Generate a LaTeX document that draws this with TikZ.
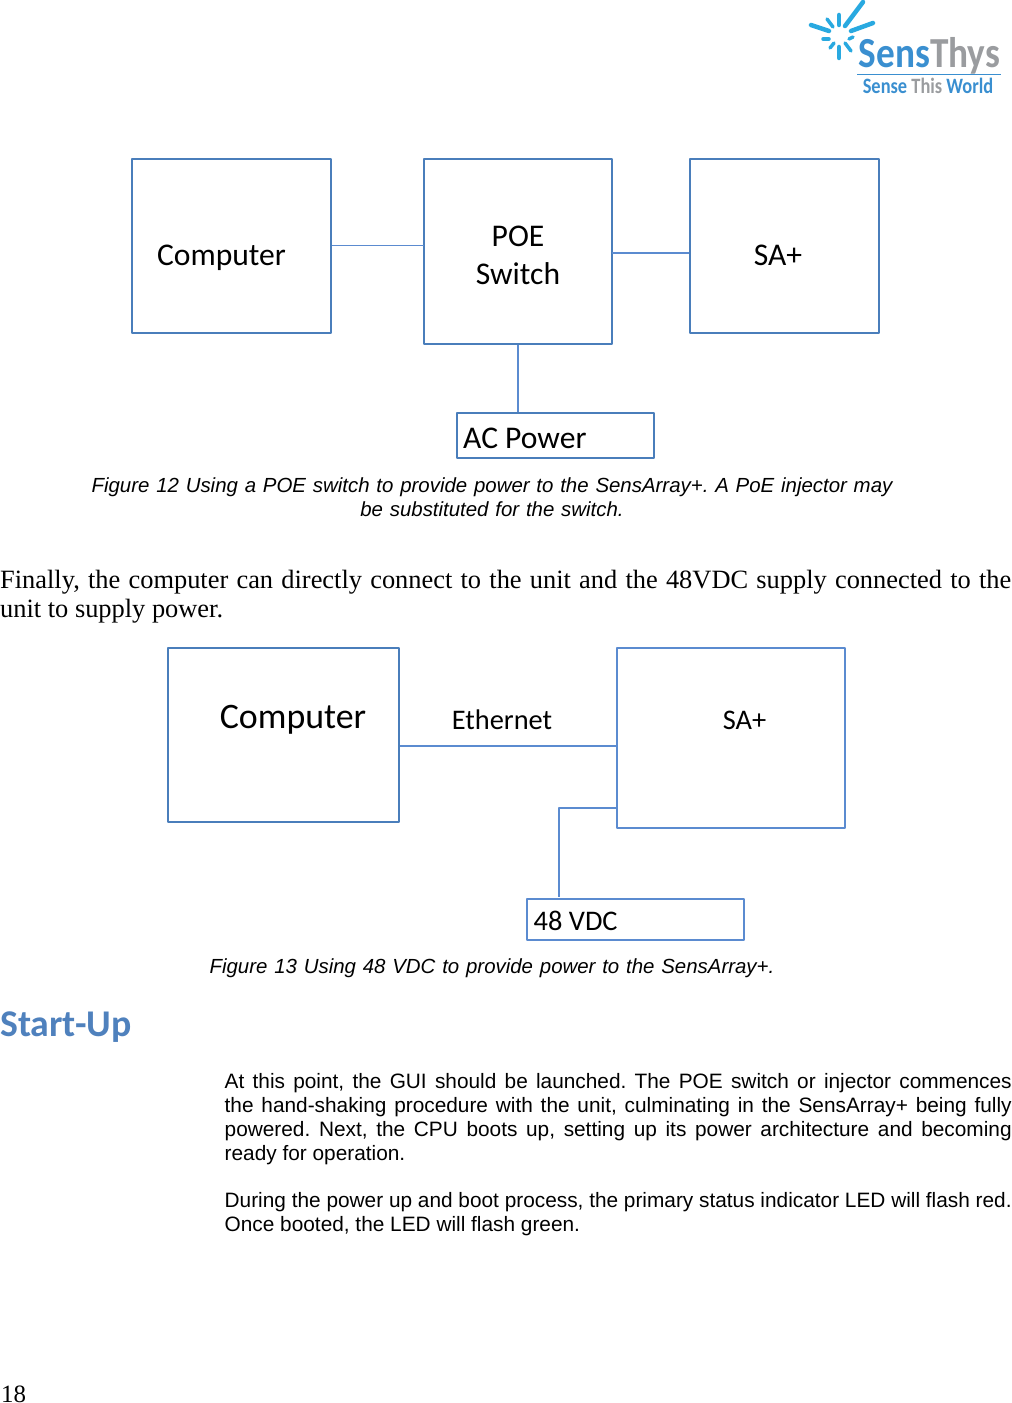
\documentclass[tikz,border=0pt]{standalone}
\usepackage{fontspec}
\setmainfont{Liberation Serif}
\newfontfamily\calfont{Carlito}
\newfontfamily\arialfont{Liberation Sans}
\usetikzlibrary{positioning}
\definecolor{boxblue}{HTML}{4A7EBB}
\definecolor{linkblue}{HTML}{5B8BD0}
\definecolor{headblue}{HTML}{4F81BD}
\definecolor{logoblue}{HTML}{3A8FD0}
\definecolor{raycyan}{HTML}{29A9E0}
\definecolor{logogray}{HTML}{9A9C9F}
\frenchspacing
\tikzset{
  blockbox/.style={draw=boxblue,line width=1.5bp,inner sep=0pt},
  blocktwo/.style={draw=linkblue,line width=1.5bp,inner sep=0pt},
  blocktext/.style={inner sep=0pt,font=\calfont\fontsize{31.7}{38}\selectfont,align=center},
  smalltext/.style={blocktext,font=\calfont\fontsize{28.5}{34}\selectfont},
  captiontext/.style={inner sep=0pt,text width=900bp,align=center,font=\arialfont\itshape\fontsize{20.5}{24}\selectfont},
  bodytext/.style={inner sep=0pt,anchor=north west,align=justify,font=\arialfont\fontsize{20.9}{24}\selectfont},
  ray/.style={raycyan,line cap=round,line width=4.5bp},
  rayshort/.style={raycyan,line cap=round,line width=3.5bp},
}
\begin{document}
\begin{tikzpicture}[x=1bp,y=1bp,line join=bevel]
\useasboundingbox (0,0) rectangle (1011,-1403);
%%
\node (comp_a) at (231.5,-246) [blockbox,minimum width=199bp,minimum height=174bp] {};
\node (poe) at (518,-251.5) [blockbox,minimum width=188bp,minimum height=185bp] {};
\node (sa_a) at (784.5,-246) [blockbox,minimum width=189bp,minimum height=174bp] {};
\node (ac) at (555.5,-435.5) [blockbox,minimum width=197bp,minimum height=45bp] {};
\node (comp_a_text) at (221.5,-258) [blocktext] {Computer};
\node (poe_text) at (518,-255) [blocktext] {POE\\Switch};
\node (sa_a_text) at (778,-255) [blocktext] {SA+};
\node (ac_text) [blocktext,anchor=west] at (463,-438) {AC Power};
\coordinate (poe_left) at (424,-245.5);
\coordinate (poe_right) at (612,-253);
\draw [linkblue,line width=1.3bp] (comp_a.east |- poe_left) -- (poe_left);
\draw [linkblue,line width=1.5bp] (poe_right) -- (sa_a.west |- poe_right);
\draw [linkblue,line width=1.5bp] (poe.south) -- (poe.south |- ac.north);
%
\node (cap_a) at (492,-497) [captiontext] {Figure 12 Using a POE switch to provide power to the SensArray+. A PoE injector may\\be substituted for the switch.};
\node (para_a) at (0,-570) [bodytext,text width=1011bp,font=\fontsize{26.5}{29}\selectfont] {Finally, the computer can directly connect to the unit and the 48VDC supply connected to the\linebreak unit to supply power.};
%
\node (comp_b) at (283.5,-735) [blockbox,minimum width=231bp,minimum height=174bp] {};
\node (sa_b) at (731,-738) [blocktwo,minimum width=228bp,minimum height=180bp] {};
\node (vdc) at (635.5,-919.5) [blocktwo,minimum width=217bp,minimum height=41bp] {};
\node (comp_b_text) at (293,-720) [blocktext,font=\calfont\fontsize{36}{40}\selectfont] {Computer};
\node (eth_text) at (502,-720) [smalltext] {Ethernet};
\node (sa_b_text) at (744.5,-720) [smalltext] {SA+};
\node (vdc_text) [smalltext,anchor=west] at (533.5,-921) {48 VDC};
\coordinate (sa_b_eth) at (617,-746);
\coordinate (sa_b_pow) at (617,-808);
\coordinate (vdc_top) at (559,-897);
\draw [linkblue,line width=1.5bp] (comp_b.east |- sa_b_eth) -- (sa_b_eth);
\draw [linkblue,line width=1.5bp] (sa_b_pow) -- (vdc_top |- sa_b_pow) -- (vdc_top);
%
\node (cap_b) at (492,-968) [captiontext] {Figure 13 Using 48 VDC to provide power to the SensArray+.};
\node (startup) at (0,-1027) [inner sep=0pt,anchor=west,text=headblue,font=\calfont\bfseries\fontsize{37.9}{42}\selectfont] {Start-Up};
\node (para_b) at (224.5,-1073) [bodytext,text width=787bp] {At this point, the GUI should be launched. The POE switch or injector commences\linebreak the hand-shaking procedure with the unit, culminating in the SensArray+ being fully\linebreak powered. Next, the CPU boots up, setting up its power architecture and becoming\linebreak ready for operation.};
\node (para_c) at (224.5,-1192) [bodytext,text width=787bp] {During the power up and boot process, the primary status indicator LED will flash red.\linebreak Once booted, the LED will flash green.};
\node (page) at (1,-1394) [inner sep=0pt,anchor=west,font=\fontsize{25}{28}\selectfont] {18};
%% logo
\draw [ray] (845,-26) -- (863,-2);
\draw [ray] (851,-31) -- (873,-23);
\draw [ray] (829,-31) -- (811,-25);
\draw [ray] (839,-25) -- (839,-15);
\draw [rayshort] (833,-27) -- (827,-19);
\draw [rayshort] (829,-39) -- (823,-39);
\draw [rayshort] (834,-43) -- (830,-48);
\draw [ray] (839,-47) -- (839,-58);
\draw [rayshort] (845,-43) -- (851,-51);
\draw [rayshort] (849,-39) -- (853,-37);
\node (logo_name) at (929.5,-55.5) [inner sep=0pt,xscale=.87,font=\calfont\bfseries\fontsize{43}{43}\selectfont] {\textcolor{logoblue}{Sens}\textcolor{logogray}{Thys}};
\coordinate (rule_left) at (857,-74.5);
\coordinate (rule_right) at (1001,-74.5);
\draw [logoblue,line width=1.5bp] (rule_left) -- (rule_right);
\node (logo_tag) at (928,-86) [inner sep=0pt,xscale=.84,font=\calfont\bfseries\fontsize{22}{22}\selectfont] {\textcolor{logoblue}{Sense} \textcolor{logogray}{This} \textcolor{logoblue}{World}};
\end{tikzpicture}
\end{document}
